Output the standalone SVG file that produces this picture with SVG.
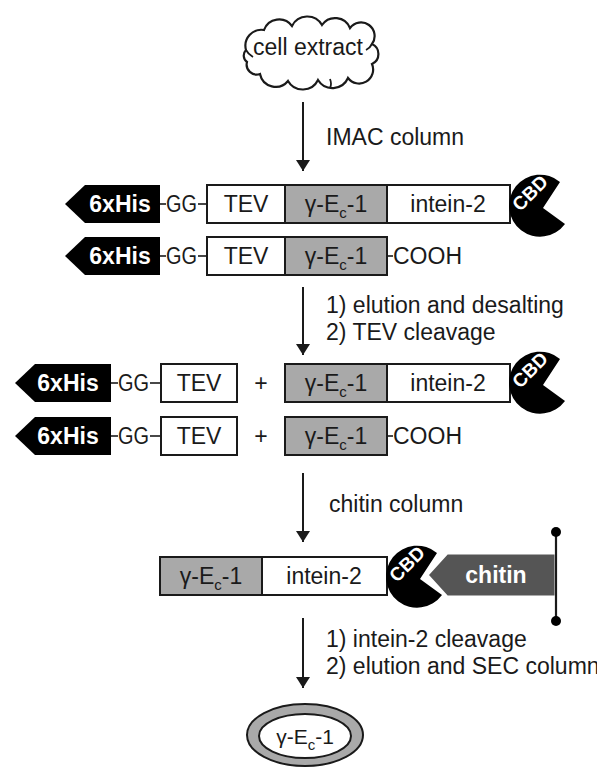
<svg xmlns="http://www.w3.org/2000/svg" width="597" height="767" viewBox="0 0 597 767">
  <style>
    text { font-family: "Liberation Sans", Arial, sans-serif; font-size: 23px; fill: #1a1a1a; }
    .mid { text-anchor: middle; }
    .tag { font-weight: bold; fill: #ffffff; text-anchor: middle; }
    .cbd { font-weight: bold; fill: #ffffff; font-size: 19px; text-anchor: middle; dominant-baseline: central; }
    .sub { font-size: 15px; }
    .box { fill: #ffffff; stroke: #1a1a1a; stroke-width: 2; }
    .grey { fill: #a9a9a9; stroke: #1a1a1a; stroke-width: 2; }
    .his { fill: #000000; }
    .link { stroke: #1a1a1a; stroke-width: 1.6; fill: none; }
    .flow { stroke: #1a1a1a; stroke-width: 2; fill: none; marker-end: url(#ah); }
    .pac { fill: #000000; }
  </style>
  <defs>
    <marker id="ah" markerUnits="userSpaceOnUse" markerWidth="12" markerHeight="14" refX="11" refY="7" orient="auto">
      <path d="M0,0 L11,7 L0,14 Z" fill="#1a1a1a"/>
    </marker>
    <!-- CBD domain: pac-man with mouth opening to the right, centred on 0,0 -->
    <path id="pacman" d="M3,2 L20,-24 A31,31 0 1 0 25,18 Z"/>
  </defs>

  <!-- start material -->
  <g id="cell-extract">
    <path fill="#ffffff" stroke="#1a1a1a" stroke-width="2.2" d="M246,50 A16,16 0 0 1 264,30 A16,16 0 0 1 292,26 A17,17 0 0 1 322,25 A16,16 0 0 1 350,28 A13,13 0 0 1 372,44 A11,11 0 0 1 372,64 A14,14 0 0 1 348,78 A17,17 0 0 1 318,80 A17,17 0 0 1 288,81 A16,16 0 0 1 260,74 A10,10 0 0 1 247,62 A8,8 0 0 1 246,50 Z"/>
    <path fill="none" stroke="#1a1a1a" stroke-width="1.8" d="M253,57 q-5,-3 -7,-7 M366,50 q4,-2 6,-6 M330,79 q2,5 0,9"/>
    <text class="mid" x="308" y="55">cell extract</text>
  </g>

  <!-- flow arrows -->
  <g id="connectors">
    <line class="flow" x1="303" y1="102" x2="303" y2="171"/>
    <line class="flow" x1="303" y1="287" x2="303" y2="355"/>
    <line class="flow" x1="303" y1="473" x2="303" y2="542"/>
    <line class="flow" x1="303" y1="618" x2="303" y2="688"/>
  </g>
  <g id="step-labels">
    <text x="326" y="145">IMAC column</text>
    <text x="326" y="313">1) elution and desalting</text>
    <text x="326" y="340">2) TEV cleavage</text>
    <text x="329" y="512">chitin column</text>
    <text x="326" y="647">1) intein-2 cleavage</text>
    <text x="326" y="674">2) elution and SEC column</text>
  </g>

  <!-- bound fusion protein after IMAC -->
  <g id="fusion-full-1">
    <path class="his" d="M65,204 L85,185 L160,185 L160,223 L85,223 Z"/>
    <text class="tag" x="120" y="212">6xHis</text>
    <line class="link" x1="160" y1="204" x2="166" y2="204"/>
    <text x="166" y="212" textLength="31" lengthAdjust="spacingAndGlyphs">GG</text>
    <line class="link" x1="198" y1="204" x2="207" y2="204"/>
    <rect class="box" x="207" y="185" width="78" height="38"/>
    <text class="mid" x="246" y="212">TEV</text>
    <rect class="grey" x="285" y="185" width="102" height="38"/>
    <text class="mid" x="336" y="212">γ-E<tspan class="sub" dy="6">c</tspan><tspan dy="-6">-1</tspan></text>
    <rect class="box" x="387" y="185" width="123" height="38"/>
    <text class="mid" x="448" y="212">intein-2</text>
    <use href="#pacman" class="pac" x="540" y="206"/>
    <text class="cbd" transform="translate(530,193) rotate(-45)">CBD</text>
  </g>

  <g id="fusion-cut-1">
    <path class="his" d="M65,256 L85,237 L160,237 L160,275 L85,275 Z"/>
    <text class="tag" x="120" y="264">6xHis</text>
    <line class="link" x1="160" y1="256" x2="166" y2="256"/>
    <text x="166" y="264" textLength="31" lengthAdjust="spacingAndGlyphs">GG</text>
    <line class="link" x1="198" y1="256" x2="207" y2="256"/>
    <rect class="box" x="207" y="237" width="78" height="38"/>
    <text class="mid" x="246" y="264">TEV</text>
    <rect class="grey" x="285" y="237" width="102" height="38"/>
    <text class="mid" x="336" y="264">γ-E<tspan class="sub" dy="6">c</tspan><tspan dy="-6">-1</tspan></text>
    <line class="link" x1="387" y1="256" x2="393" y2="256"/>
    <text x="393" y="264">COOH</text>
  </g>

  <!-- after TEV cleavage -->
  <g id="tag-1">
    <path class="his" d="M15,383 L35,364 L111,364 L111,402 L35,402 Z"/>
    <text class="tag" x="68" y="391">6xHis</text>
    <line class="link" x1="111" y1="383" x2="118" y2="383"/>
    <text x="118" y="391" textLength="31" lengthAdjust="spacingAndGlyphs">GG</text>
    <line class="link" x1="150" y1="383" x2="161" y2="383"/>
    <rect class="box" x="161" y="364" width="76" height="38"/>
    <text class="mid" x="199" y="391">TEV</text>
    <text class="mid" x="261" y="391">+</text>
  </g>
  <g id="fusion-full-2">
    <rect class="grey" x="285" y="364" width="102" height="38"/>
    <text class="mid" x="336" y="391">γ-E<tspan class="sub" dy="6">c</tspan><tspan dy="-6">-1</tspan></text>
    <rect class="box" x="387" y="364" width="123" height="38"/>
    <text class="mid" x="448" y="391">intein-2</text>
    <use href="#pacman" class="pac" x="540" y="383"/>
    <text class="cbd" transform="translate(530,370) rotate(-45)">CBD</text>
  </g>

  <g id="tag-2">
    <path class="his" d="M15,436 L35,417 L111,417 L111,455 L35,455 Z"/>
    <text class="tag" x="68" y="444">6xHis</text>
    <line class="link" x1="111" y1="436" x2="118" y2="436"/>
    <text x="118" y="444" textLength="31" lengthAdjust="spacingAndGlyphs">GG</text>
    <line class="link" x1="150" y1="436" x2="161" y2="436"/>
    <rect class="box" x="161" y="417" width="76" height="38"/>
    <text class="mid" x="199" y="444">TEV</text>
    <text class="mid" x="261" y="444">+</text>
  </g>
  <g id="fusion-cut-2">
    <rect class="grey" x="285" y="417" width="102" height="38"/>
    <text class="mid" x="336" y="444">γ-E<tspan class="sub" dy="6">c</tspan><tspan dy="-6">-1</tspan></text>
    <line class="link" x1="387" y1="436" x2="393" y2="436"/>
    <text x="393" y="444">COOH</text>
  </g>

  <!-- fusion bound on chitin -->
  <g id="chitin-bound">
    <rect class="grey" x="160" y="557" width="102" height="38"/>
    <text class="mid" x="211" y="584">γ-E<tspan class="sub" dy="6">c</tspan><tspan dy="-6">-1</tspan></text>
    <rect class="box" x="262" y="557" width="125" height="38"/>
    <text class="mid" x="324" y="584">intein-2</text>
    <use href="#pacman" class="pac" x="417" y="577"/>
    <text class="cbd" transform="translate(407,564) rotate(-45)">CBD</text>
  </g>
  <g id="chitin">
    <path d="M427,575 L447,553 L556,553 L556,597 L447,597 Z" fill="#555555" stroke="#ffffff" stroke-width="3" stroke-linejoin="miter"/>
    <line stroke="#1a1a1a" stroke-width="2.2" x1="556" y1="532" x2="556" y2="621"/>
    <circle cx="556" cy="532" r="5" fill="#000000"/>
    <circle cx="556" cy="621" r="5" fill="#000000"/>
    <text class="tag" x="496" y="583">chitin</text>
  </g>

  <!-- purified product -->
  <g id="product">
    <ellipse cx="305" cy="735" rx="58" ry="31" fill="#a9a9a9" stroke="#1a1a1a" stroke-width="2"/>
    <ellipse cx="305" cy="736" rx="46" ry="22" fill="#ffffff" stroke="#1a1a1a" stroke-width="2"/>
    <text class="mid" x="305" y="744" style="font-size:21px">γ-E<tspan class="sub" dy="6">c</tspan><tspan dy="-6">-1</tspan></text>
  </g>
</svg>
